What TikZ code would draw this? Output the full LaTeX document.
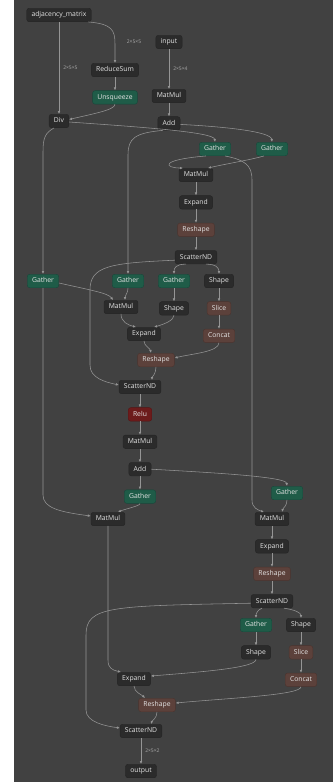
\documentclass[tikz,border=0pt]{standalone}
\usepackage{fontspec}
\setmainfont{Open Sans}
\usetikzlibrary{arrows.meta,positioning}
\definecolor{canvas}{HTML}{414141}
\definecolor{opfill}{HTML}{2B2B2B}
\definecolor{opline}{HTML}{242424}
\definecolor{optext}{HTML}{E4E4E4}
\definecolor{gatfill}{HTML}{1F5C48}
\definecolor{gatline}{HTML}{17473A}
\definecolor{shpfill}{HTML}{5C413B}
\definecolor{shpline}{HTML}{4A332E}
\definecolor{actfill}{HTML}{6C1B1B}
\definecolor{actline}{HTML}{561414}
\definecolor{edge}{HTML}{959595}
\definecolor{dimtext}{HTML}{AAAAAA}

\begin{document}
\begin{tikzpicture}[
  x=1pt, y=-1pt,
  node distance=13.5pt,
  op/.style={rectangle, rounded corners=2.5pt, draw=opline, fill=opfill, text=optext,
             minimum height=13.5pt, inner xsep=4.8pt, inner ysep=0pt,
             text height=5pt, text depth=1.4pt, font=\fontsize{6.8}{7}\selectfont},
  gat/.style={op, fill=gatfill, draw=gatline},
  shp/.style={op, fill=shpfill, draw=shpline},
  act/.style={op, fill=actfill, draw=actline},
  dim/.style={font=\fontsize{5}{6}\selectfont, text=dimtext, inner sep=1pt},
  arr/.style={draw=edge, line width=0.55pt, -{Latex[length=3pt,width=2.6pt]}}]
  \useasboundingbox (0,0) rectangle (333,782);
  \fill[canvas] (14,0) rectangle (333,782);

  % first layer
  \node[op] (adj) at (59,15) {adjacency\_matrix};
  \node[op] (input) at (169,42) {input};
  \node[op] (rsum) at (115,70) {ReduceSum};
  \node[gat, below=of rsum] (unsq) {Unsqueeze};
  \node[op] (mm0) at (169,96) {MatMul};
  \node[op] (div) at (59,121) {Div};
  \node[op, below=of mm0] (add0) {Add};
  \node[gat] (ga) at (215,149) {Gather};
  \node[gat] (gb) at (272,149) {Gather};
  \node[op] (mm1) at (196,175) {MatMul};
  \node[op, below=of mm1] (ex1) {Expand};
  \node[shp, below=of ex1] (rs1) {Reshape};
  \node[op, below=of rs1] (sc1) {ScatterND};
  \node[gat] (gc) at (43,281) {Gather};
  \node[gat] (gd) at (128,281) {Gather};
  \node[gat] (ge) at (174,281) {Gather};
  \node[op] (sh1) at (219,281) {Shape};
  \node[op] (mm2) at (121,307) {MatMul};
  \node[op, below=of ge] (sh2) {Shape};
  \node[shp, below=of sh1] (sl1) {Slice};
  \node[shp, below=of sl1] (cc1) {Concat};
  \node[op] (ex2) at (144,334) {Expand};
  \node[shp] (rs2) at (156,360) {Reshape};
  \node[op] (sc2) at (140,387) {ScatterND};

  % second layer
  \node[act, below=of sc2] (relu) {Relu};
  \node[op, below=of relu] (mm3) {MatMul};
  \node[op, below=of mm3] (add1) {Add};
  \node[gat, below=of add1] (gf) {Gather};
  \node[gat] (gg) at (287,493) {Gather};
  \node[op] (mm4) at (108,519) {MatMul};
  \node[op] (mm5) at (272,519) {MatMul};
  \node[op, below=of mm5] (ex3) {Expand};
  \node[shp, below=of ex3] (rs3) {Reshape};
  \node[op, below=of rs3] (sc3) {ScatterND};
  \node[gat] (gh) at (256,625) {Gather};
  \node[op] (sh3) at (301,625) {Shape};
  \node[op, below=of gh] (sh4) {Shape};
  \node[shp, below=of sh3] (sl2) {Slice};
  \node[shp, below=of sl2] (cc2) {Concat};
  \node[op] (ex4) at (134,679) {Expand};
  \node[shp] (rs4) at (157,705) {Reshape};
  \node[op] (sc4) at (141,731) {ScatterND};
  \node[op] (out) at (141,771) {output};

  \draw[arr] ([xshift=-3pt]adj.south east) .. controls (112,24) and (115,30) .. (115,44) -- (rsum);
  \node[dim] (l1) at (134,42) {2×5×5};
  \draw[arr] (adj) -- node[dim, right=3pt] (l2) {2×5×5} (div);
  \draw[arr] (input) -- node[dim, right=3pt] (l3) {2×5×4} (mm0);
  \draw[arr] (rsum) -- (unsq);
  \draw[arr] (unsq.south) .. controls (115,110) and (92,114) .. ([yshift=1.5pt]div.east);
  \draw[arr] (mm0) -- (add0);
  \draw[arr] ([yshift=-1pt]div.east) .. controls (140,127) and (214,132) .. (ga.north);
  \draw[arr] ([yshift=-1pt]add0.east) .. controls (230,127) and (271,132) .. (gb.north);
  \draw[arr] ([xshift=-6pt]add0.south) .. controls (135,133) and (128,138) .. (128,155) -- (gd.north);
  \draw[arr] ([xshift=-5pt]div.south) .. controls (45,133) and (43,138) .. (43,152) -- (gc.north);
  \draw[arr] ([xshift=-9pt]ga.south) .. controls (158,160) and (165,168) .. ([xshift=-13pt]mm1.north);
  \draw[arr] ([xshift=-8pt]gb.south) .. controls (250,160) and (225,164) .. ([xshift=12pt]mm1.north);
  \draw[arr] ([xshift=10pt]ga.south) .. controls (245,160) and (252,165) .. (252,180)
    -- (252,500) .. controls (252,508) and (258,510) .. ([xshift=-8pt]mm5.north);
  \draw[arr] (mm1) -- (ex1);
  \draw[arr] (ex1) -- (rs1);
  \draw[arr] (rs1) -- (sc1);
  \draw[arr] ([xshift=-10pt]sc1.south) .. controls (176,264) and (174,268) .. (ge.north);
  \draw[arr] ([xshift=10pt]sc1.south) .. controls (216,264) and (219,268) .. (sh1.north);
  \draw[arr] ([yshift=-3pt]sc1.west) .. controls (110,263) and (90,266) .. (90,290)
    -- (90,365) .. controls (90,378) and (105,382) .. ([yshift=2pt]sc2.west);
  \draw[arr] ([yshift=-2pt]gc.east) .. controls (90,290) and (108,293) .. ([xshift=-8pt]mm2.north);
  \draw[arr] (gd.south) .. controls (128,294) and (125,294) .. ([xshift=4pt]mm2.north);
  \draw[arr] (ge) -- (sh2);
  \draw[arr] (sh1) -- (sl1);
  \draw[arr] (sl1) -- (cc1);
  \draw[arr] (mm2.south) .. controls (121,322) and (128,325) .. ([xshift=-8pt]ex2.north);
  \draw[arr] (sh2.south) .. controls (174,320) and (165,324) .. ([xshift=10pt]ex2.north);
  \draw[arr] (ex2.south) .. controls (144,346) and (150,348) .. ([xshift=-5pt]rs2.north);
  \draw[arr] (cc1.south) .. controls (219,352) and (190,354) .. ([yshift=2pt]rs2.east);
  \draw[arr] (rs2.south) .. controls (156,374) and (152,377) .. ([xshift=12pt]sc2.north);
  \draw[arr] (sc2) -- (relu);
  \draw[arr] (relu) -- (mm3);
  \draw[arr] (mm3) -- (add1);
  \draw[arr] (add1) -- (gf);
  \draw[arr] (add1.east) .. controls (220,473) and (286,477) .. (gg.north);
  \draw[arr] (gf.south) .. controls (140,506) and (125,509) .. ([xshift=10pt]mm4.north);
  \draw[arr] (gc.south) -- (43,495) .. controls (43,508) and (60,512) .. ([yshift=3pt]mm4.west);
  \draw[arr] (gg.south) .. controls (287,506) and (283,508) .. ([xshift=10pt]mm5.north);
  \draw[arr] (mm5) -- (ex3);
  \draw[arr] (ex3) -- (rs3);
  \draw[arr] (rs3) -- (sc3);
  \draw[arr] ([xshift=-10pt]sc3.south) .. controls (258,610) and (256,613) .. (gh.north);
  \draw[arr] ([xshift=12pt]sc3.south) .. controls (296,610) and (301,613) .. (sh3.north);
  \draw[arr] ([yshift=-2pt]sc3.west) .. controls (110,606) and (86,606) .. (86,635)
    -- (86,710) .. controls (86,722) and (105,726) .. ([yshift=3pt]sc4.west);
  \draw[arr] (gh) -- (sh4);
  \draw[arr] (sh3) -- (sl2);
  \draw[arr] (sl2) -- (cc2);
  \draw[arr] (mm4.south) -- (108,660) .. controls (108,668) and (112,670) .. ([xshift=-13pt]ex4.north);
  \draw[arr] (sh4.south) .. controls (256,668) and (200,672) .. ([yshift=3pt]ex4.east);
  \draw[arr] (ex4.south) .. controls (134,692) and (142,695) .. ([xshift=-12pt]rs4.north);
  \draw[arr] (cc2.south) .. controls (301,695) and (230,698) .. ([yshift=2pt]rs4.east);
  \draw[arr] (rs4.south) .. controls (157,718) and (152,721) .. ([xshift=10pt]sc4.north);
  \draw[arr] (sc4) -- node[dim, right=3pt] (l4) {2×5×2} (out);
\end{tikzpicture}
\end{document}
